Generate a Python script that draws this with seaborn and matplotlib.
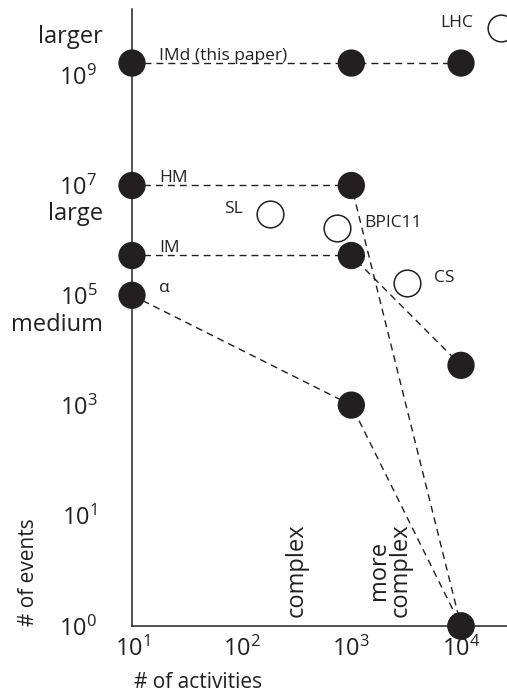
import numpy as np
import pandas as pd
import matplotlib
matplotlib.use("Agg")
import matplotlib.pyplot as plt
import seaborn as sns
from matplotlib.ticker import NullLocator

# ---------------- data ----------------
series_names = ["IMd (this paper)", "HM", "IM", "α"]
series_activities = [[10, 1e3, 1e4], [10, 1e3, 1e4], [10, 1e3, 1e4], [10, 1e3, 1e4]]
series_events = [[1.7e9, 1.7e9, 1.7e9], [1e7, 1e7, 1], [5.3e5, 5.3e5, 5.3e3], [1e5, 1e3, 1]]

other_names = ["LHC", "SL", "BPIC11", "CS"]
other_activities = [2.3e4, 1.8e2, 7.4e2, 3.2e3]
other_events = [7.4e9, 3.0e6, 1.7e6, 1.7e5]

x_ticks = [1e1, 1e2, 1e3, 1e4]
x_tick_labels = [r"$\mathregular{10^{1}}$", r"$\mathregular{10^{2}}$",
                 r"$\mathregular{10^{3}}$", r"$\mathregular{10^{4}}$"]
y_ticks = [1, 1e1, 1e3, 1e5, 1e7, 1e9]
y_tick_labels = [r"$\mathregular{10^{0}}$", r"$\mathregular{10^{1}}$", r"$\mathregular{10^{3}}$",
                 r"$\mathregular{10^{5}}$", r"$\mathregular{10^{7}}$", r"$\mathregular{10^{9}}$"]
size_labels = ["larger", "large", "medium"]
complexity_labels = ["complex", "more\ncomplex"]
x_label = "# of activities"
y_label = "# of events"

# ---------------- style ----------------
sns.set_style("white")
plt.rcParams["font.family"] = ["Open Sans", "DejaVu Sans"]
plt.rcParams["mathtext.fontset"] = "custom"
plt.rcParams["mathtext.rm"] = "Open Sans"
plt.rcParams["mathtext.default"] = "regular"

INK = "#231f20"
W, H = 507, 697
fig = plt.figure(figsize=(W / 100, H / 100), dpi=100)
ax = fig.add_axes([132 / W, 1 - 626 / H, 375 / W, 617 / H])

# schematic y scale: 10^0..10^1 stretched, then uniform decades
def fwd(v):
    v = np.asarray(v, dtype=float)
    l = np.log10(np.where(v > 0, v, 1e-300))
    return np.where(l >= 1, 111.1 + 54.9 * (l - 1), 111.1 * l)

def inv(p):
    p = np.asarray(p, dtype=float)
    with np.errstate(over="ignore"):
        return np.where(p >= 111.1, 10 ** (1 + (p - 111.1) / 54.9), 10 ** (p / 111.1))

ax.set_xscale("log")
ax.set_yscale("function", functions=(fwd, inv))

# long-format tables
rows = []
for name, xs, ys in zip(series_names, series_activities, series_events):
    for xv, yv in zip(xs, ys):
        rows.append({"series": name, "activities": xv, "events": yv})
df = pd.DataFrame(rows)
df_other = pd.DataFrame({"name": other_names, "activities": other_activities, "events": other_events})

sns.lineplot(data=df, x="activities", y="events", units="series", estimator=None,
             sort=False, color=INK, lw=1.0, ax=ax, zorder=2)
for ln in ax.lines:
    ln.set_linestyle((0, (5, 3.6)))

sns.scatterplot(data=df, x="activities", y="events", s=386, color=INK,
                edgecolor="none", linewidth=0, ax=ax, zorder=4, clip_on=False, legend=False)
sns.scatterplot(data=df_other, x="activities", y="events", s=370, facecolor="white",
                edgecolor=INK, linewidth=1.1, ax=ax, zorder=4, clip_on=False, legend=False)

ax.set_xlim(10, 10 ** (1 + 375 / 109.67))
ax.set_ylim(1, float(inv(617)))

ax.set_xticks(x_ticks)
ax.set_xticklabels(x_tick_labels, fontsize=17, color=INK)
ax.set_yticks(y_ticks)
ax.set_yticklabels(y_tick_labels, fontsize=17, color=INK)
ax.xaxis.set_minor_locator(NullLocator())
ax.yaxis.set_minor_locator(NullLocator())
ax.tick_params(axis="both", length=0)
ax.tick_params(axis="y", pad=25)
ax.tick_params(axis="x", pad=8)

for s in ["top", "right"]:
    ax.spines[s].set_visible(False)
for s in ["left", "bottom"]:
    ax.spines[s].set_color(INK)
    ax.spines[s].set_linewidth(1.1)
    ax.spines[s].set_zorder(3)

ax.set_xlabel(x_label, fontsize=15, color=INK, va="center")
ax.xaxis.set_label_coords((198 - 132) / 375, (626 - 683) / 617)
ax.set_ylabel(y_label, fontsize=15, color=INK, va="center")
ax.yaxis.set_label_coords((28 - 132) / 375, (626 - 572) / 617)

# point labels
for name, xs, ys in zip(series_names, series_activities, series_events):
    ax.annotate(name, (xs[0], ys[0]), xytext=(19.5, 2.3), textcoords="offset points",
                ha="left", va="baseline", fontsize=12.5, color=INK)
other_side = [-1, -1, 1, 1]
for name, xv, yv, side in zip(other_names, other_activities, other_events, other_side):
    ax.annotate(name, (xv, yv), xytext=(side * 19.5, 0.8), textcoords="offset points",
                ha="left" if side > 0 else "right", va="baseline", fontsize=12.5, color=INK)

# size category labels
for txt, yb in zip(size_labels, [43, 220, 331]):
    fig.text(103 / W, 1 - yb / H, txt, ha="right", va="baseline", fontsize=17, color=INK)

# complexity labels (rotated)
for txt, xc in zip(complexity_labels, [297, 390]):
    fig.text(xc / W, 1 - 570 / H, txt, ha="center", va="center", rotation=90,
             multialignment="center", fontsize=17, color=INK, linespacing=0.85)

fig.savefig("out.png", dpi=100)
